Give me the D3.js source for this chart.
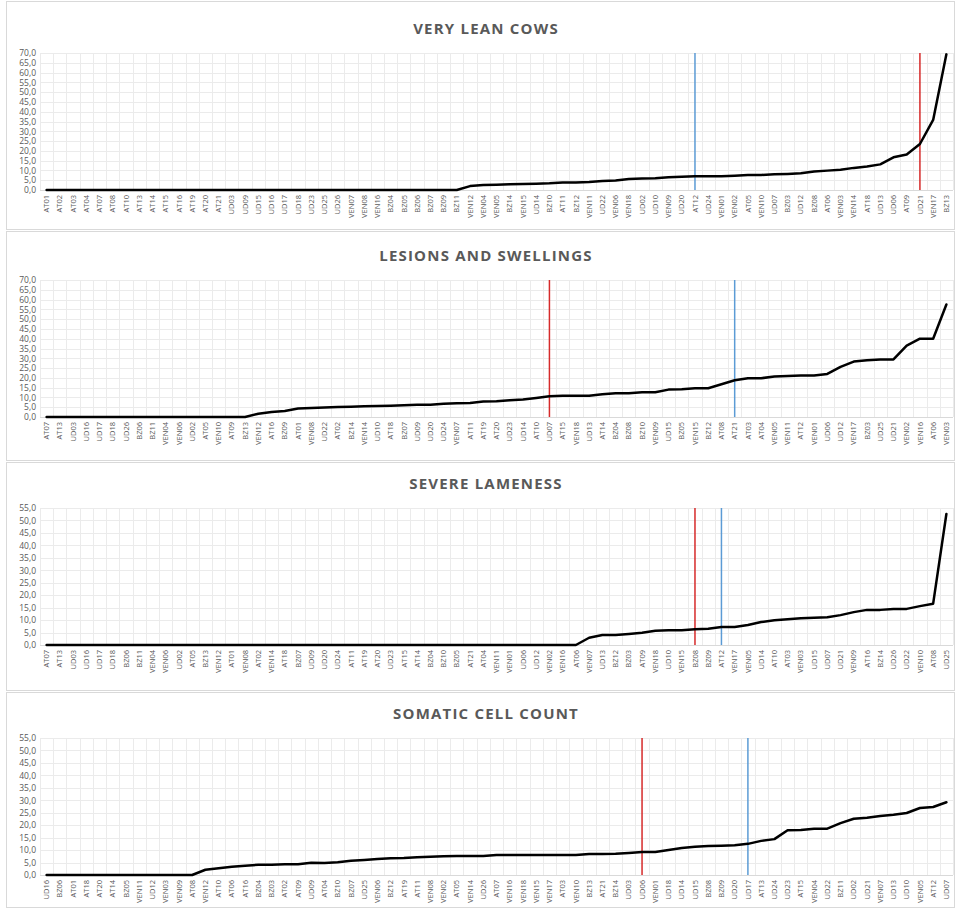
<!DOCTYPE html>
<html>
<head>
<meta charset="utf-8">
<script src="https://cdn.jsdelivr.net/npm/d3@7"></script>
<style>
  body { margin: 0; background: #fff; }
  svg { display: block; }
  .tick text { font-family: "Open Sans", sans-serif; fill: #595959; }
  .title { font-family: "Open Sans", sans-serif; font-weight: bold; fill: #595959; letter-spacing: 1.2px; }
</style>
</head>
<body>
<svg width="957" height="908"></svg>
<script>
// --- data ---
var titles = ["VERY LEAN COWS", "LESIONS AND SWELLINGS", "SEVERE LAMENESS", "SOMATIC CELL COUNT"];

var farms1 = ["AT01","AT02","AT03","AT04","AT07","AT08","AT10","AT13","AT14","AT15","AT16","AT19","AT20","AT21",
  "UD03","UD09","UD15","UD16","UD17","UD18","UD23","UD25","UD26","VEN07","VEN08","VEN16","BZ04","BZ05","BZ06","BZ07",
  "BZ09","BZ11","VEN12","VEN04","VEN05","BZ14","VEN15","UD14","BZ10","AT11","BZ12","VEN11","UD22","VEN06","VEN18","UD02",
  "UD10","VEN09","UD20","AT12","UD24","VEN01","VEN02","AT05","VEN10","UD07","BZ03","UD12","BZ08","AT06","VEN03","VEN14",
  "AT18","UD13","UD06","AT09","UD21","VEN17","BZ13"];
var values1 = [0,0,0,0,0,0,0,0,0,0,0,0,0,0,0,0,0,0,0,0,0,0,0,0,0,0,0,0,0,0,0,0,
  2.0,2.6,2.7,2.9,3.1,3.2,3.4,3.8,3.8,4.1,4.6,4.9,5.6,5.9,
  6.0,6.5,6.8,7.0,7.0,7.0,7.3,7.7,7.7,8.0,8.2,8.5,9.4,9.9,10.4,11.3,12.0,13.1,16.7,18.1,23.5,35.8,69.3];

var farms2 = ["AT07","AT13","UD03","UD16","UD17","UD18","UD26","BZ06","BZ11","VEN04","VEN06","UD02","AT05","VEN10","AT09","BZ13",
  "VEN12","AT16","BZ09","AT01","VEN08","UD22","AT02","BZ14","VEN14","UD10","AT18","BZ07","UD09","UD20","UD24","VEN07",
  "AT11","AT19","AT20","UD23","UD14","AT10","UD07","AT15","VEN18","UD13","AT14","BZ04","BZ08","BZ10","VEN09","UD15",
  "BZ05","VEN15","BZ12","AT08","AT21","AT03","AT04","VEN05","VEN11","AT12","VEN01","UD06","UD12","VEN17","BZ03","UD25",
  "UD21","VEN02","VEN16","AT06","VEN03"];
var values2 = [0,0,0,0,0,0,0,0,0,0,0,0,0,0,0,0,
  1.7,2.6,3.1,4.3,4.6,4.8,5.1,5.3,5.5,5.6,5.8,6.0,6.3,6.3,6.8,7.0,7.2,7.9,8.0,8.5,8.9,9.7,10.6,10.8,10.8,10.8,
  11.6,12.1,12.1,12.6,12.6,14.0,14.2,14.7,14.7,16.7,18.8,19.8,19.8,20.7,21.0,21.2,21.2,22.0,25.6,28.3,29.0,29.4,
  29.4,36.5,40.0,40.0,57.5];

var farms3 = ["AT07","AT13","UD03","UD16","UD17","UD18","BZ06","BZ11","VEN04","VEN06","UD02","AT05","BZ13","VEN12","AT01","VEN08",
  "AT02","VEN14","AT18","BZ07","UD09","UD20","UD24","AT11","AT19","AT20","UD23","AT15","AT14","BZ04","BZ10","BZ05",
  "AT21","AT04","VEN11","VEN01","UD06","UD12","VEN02","VEN16","AT06","VEN07","UD13","BZ12","BZ03","AT09","VEN18","UD10",
  "VEN15","BZ08","BZ09","AT12","VEN17","VEN05","UD14","AT10","AT03","VEN03","UD15","UD07","UD21","VEN09","AT16","BZ14",
  "UD26","UD22","VEN10","AT08","UD25"];
var values3 = [0,0,0,0,0,0,0,0,0,0,0,0,0,0,0,0,0,0,0,0,0,0,0,0,0,0,0,0,0,0,0,0,0,0,0,0,0,0,0,0,0,
  2.9,4.0,4.0,4.4,4.9,5.7,5.9,5.9,6.3,6.5,7.2,7.2,8.0,9.2,9.9,10.3,10.7,10.9,11.1,12.0,13.2,14.1,14.1,
  14.5,14.5,15.6,16.6,52.6];

var farms4 = ["UD16","BZ06","AT01","AT18","AT20","AT14","BZ05","VEN11","UD12","VEN03","VEN09","AT08","VEN12","AT10","AT06","AT16",
  "BZ04","BZ03","AT02","AT09","UD09","AT04","BZ10","BZ07","UD25","VEN06","BZ12","AT19","AT11","VEN08","VEN02","AT05",
  "VEN14","UD26","AT07","VEN16","VEN18","VEN15","VEN17","AT03","VEN10","BZ13","AT21","BZ14","UD03","UD06","VEN01","UD18",
  "UD14","UD15","BZ08","BZ09","UD20","UD17","AT13","UD24","UD23","AT15","VEN04","UD22","BZ11","UD02","UD21","VEN07",
  "UD13","UD10","VEN05","AT12","UD07"];
var values4 = [0,0,0,0,0,0,0,0,0,0,0,0,
  2.1,2.7,3.3,3.7,4.1,4.1,4.3,4.3,4.9,4.8,5.1,5.7,6.0,6.4,6.7,6.8,7.1,7.3,7.5,7.6,7.6,7.6,8.0,8.0,8.0,8.0,8.0,
  8.0,8.0,8.4,8.4,8.5,8.8,9.2,9.2,10.0,10.8,11.3,11.6,11.7,11.9,12.5,13.7,14.4,18.0,18.1,18.6,18.6,20.8,22.6,
  23.0,23.7,24.2,24.9,26.9,27.3,29.2];

var yMaxes = [70, 70, 55, 55];
// reference lines: [red farm, blue farm]
var redMarks = ["UD21", "UD07", "BZ08", "UD06"];
var blueMarks = ["AT12", "AT21", "AT12", "UD17"];

var allFarms = [farms1, farms2, farms3, farms4];
var allValues = [values1, values2, values3, values4];

// --- layout ---
var svg = d3.select("svg");
var offsets = [0, 227, 455, 685];          // vertical shift of each panel
var boxes = [[1, 229], [231, 460], [462, 690], [692, 907]];
var left = 40, right = 953;
var plotTop = 53, plotBottom = 190;   // in first panel coordinates

var fmt = function(v) { return d3.format(".1f")(v).replace(".", ","); };

function drawPanel(i) {
    var off = offsets[i];
    var farms = allFarms[i], vals = allValues[i];

    svg.append("rect")
        .attr("x", 6.5).attr("y", boxes[i][0] + 0.5)
        .attr("width", 948).attr("height", boxes[i][1] - boxes[i][0])
        .attr("fill", "none").attr("stroke", "#d9d9d9");

    var g = svg.append("g").attr("transform", "translate(0," + off + ")");

    g.append("text")
        .attr("class", "title")
        .attr("x", 486).attr("y", 34)
        .attr("text-anchor", "middle")
        .style("font-size", "15px")
        .text(titles[i]);

    var x = d3.scaleBand().domain(farms).range([left, right]);
    var y = d3.scaleLinear().domain([0, yMaxes[i]]).range([plotBottom, plotTop]);
    var ticks = d3.range(0, yMaxes[i] + 0.1, 5);

    // grid
    g.append("g").selectAll("line.h").data(ticks).enter().append("line")
        .attr("x1", left).attr("x2", right)
        .attr("y1", function(d) { return Math.round(y(d)) + 0.5; })
        .attr("y2", function(d) { return Math.round(y(d)) + 0.5; })
        .attr("stroke", "#ebebeb");
    var edges = farms.map(function(f) { return x(f); }).concat([right]);
    g.append("g").selectAll("line.v").data(edges).enter().append("line")
        .attr("x1", function(d) { return Math.round(d) + 0.5; })
        .attr("x2", function(d) { return Math.round(d) + 0.5; })
        .attr("y1", plotTop).attr("y2", plotBottom)
        .attr("stroke", "#ebebeb");
    g.append("line")
        .attr("x1", left).attr("x2", right)
        .attr("y1", plotBottom + 0.5).attr("y2", plotBottom + 0.5)
        .attr("stroke", "#d9d9d9");

    // y axis
    var yAxis = d3.axisLeft(y).tickValues(ticks).tickFormat(fmt).tickSize(0).tickPadding(4);
    var ya = g.append("g").attr("transform", "translate(" + left + ",0)").call(yAxis);
    ya.select(".domain").remove();
    ya.selectAll("text").style("font-size", "8.5px");

    // x axis
    var xAxis = d3.axisBottom(x).tickSize(0).tickPadding(0);
    var xa = g.append("g").attr("transform", "translate(0," + plotBottom + ")").call(xAxis);
    xa.select(".domain").remove();
    xa.selectAll("text")
        .style("font-size", "7.5px")
        .attr("transform", "rotate(-90)")
        .attr("x", -5).attr("y", 0).attr("dy", "0.35em")
        .attr("text-anchor", "end");

    // reference lines
    var xc = function(f) { return x(f) + x.bandwidth() / 2; };
    g.append("line")
        .attr("x1", xc(redMarks[i])).attr("x2", xc(redMarks[i]))
        .attr("y1", plotTop).attr("y2", plotBottom)
        .attr("stroke", "#d62a2a").attr("stroke-width", 1.5);
    g.append("line")
        .attr("x1", xc(blueMarks[i])).attr("x2", xc(blueMarks[i]))
        .attr("y1", plotTop).attr("y2", plotBottom)
        .attr("stroke", "#5b9bd5").attr("stroke-width", 1.5);

    var line = d3.line()
        .x(function(d, j) { return xc(farms[j]); })
        .y(function(d) { return y(d); });
    g.append("path")
        .datum(vals)
        .attr("fill", "none")
        .attr("stroke", "#000")
        .attr("stroke-width", 2.5)
        .attr("stroke-linejoin", "round")
        .attr("stroke-linecap", "round")
        .attr("d", line);
}

for (var i = 0; i < 4; i++) drawPanel(i);
</script>
</body>
</html>
